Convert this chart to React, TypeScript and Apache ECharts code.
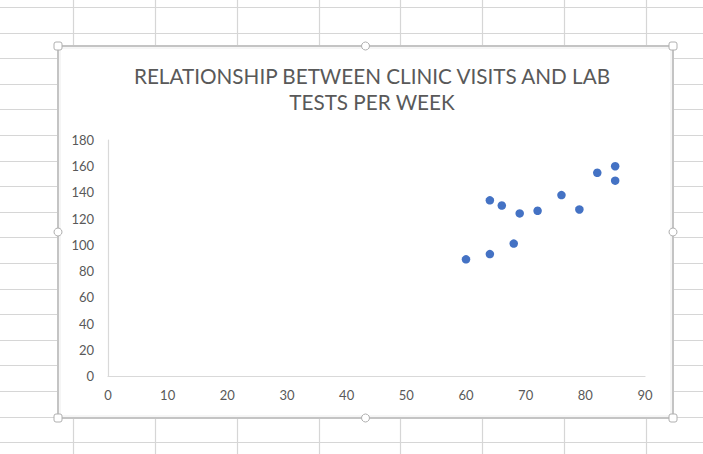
import React, { useEffect, useRef } from "react";
import * as echarts from "echarts";

const clinicVisits = [60, 64, 68, 64, 66, 69, 72, 76, 79, 82, 85, 85];
const labTests = [89, 93, 101, 134, 130, 124, 126, 138, 127, 155, 160, 149];
const titleText = "RELATIONSHIP BETWEEN CLINIC VISITS AND LAB\nTESTS PER WEEK";
const xRange = [0, 90, 10];
const yRange = [0, 180, 20];

const W = 703;
const H = 454;
const FONT = "Lato, 'Open Sans', sans-serif";

function buildBackground(): any[] {
  const els: any[] = [];
  const lineColor = "#d6d6d6";
  for (let k = 0; k < 18; k++) {
    const y = Math.round(7 + 25.6 * k) + 0.5;
    els.push({
      type: "line",
      z: -30,
      shape: { x1: 0, y1: y, x2: W, y2: y },
      style: { stroke: lineColor, lineWidth: 1.2 },
      silent: true,
    });
  }
  for (let k = 0; k < 8; k++) {
    const x = Math.round(73 + 81.85 * k) + 0.5;
    els.push({
      type: "line",
      z: -30,
      shape: { x1: x, y1: 0, x2: x, y2: H },
      style: { stroke: lineColor, lineWidth: 1.2 },
      silent: true,
    });
  }
  // chart area box
  const bx = 58, by = 46, bw = 615, bh = 372;
  els.push({
    type: "rect",
    z: -20,
    shape: { x: bx, y: by, width: bw, height: bh },
    style: { fill: "#ffffff", stroke: "#c4c4c4", lineWidth: 2 },
    silent: true,
  });
  els.push({
    type: "rect",
    z: -19,
    shape: { x: bx + 2, y: by + 2, width: bw - 4, height: bh - 4 },
    style: { fill: "none", stroke: "#ececec", lineWidth: 1 },
    silent: true,
  });
  const corners = [
    [bx, by],
    [bx + bw, by],
    [bx, by + bh],
    [bx + bw, by + bh],
  ];
  corners.forEach(([cx, cy]) => {
    els.push({
      type: "rect",
      z: -18,
      shape: { x: cx - 4, y: cy - 4, width: 8, height: 8, r: 2 },
      style: { fill: "#ffffff", stroke: "#b0b0b0", lineWidth: 1 },
      silent: true,
    });
  });
  const mids = [
    [bx + bw / 2, by],
    [bx + bw / 2, by + bh],
    [bx, by + bh / 2],
    [bx + bw, by + bh / 2],
  ];
  mids.forEach(([cx, cy]) => {
    els.push({
      type: "circle",
      z: -18,
      shape: { cx, cy, r: 4 },
      style: { fill: "#ffffff", stroke: "#b0b0b0", lineWidth: 1 },
      silent: true,
    });
  });
  return els;
}

export default function App() {
  const ref = useRef<HTMLDivElement>(null);

  useEffect(() => {
    if (!ref.current) return;
    const chart = echarts.init(ref.current, undefined, { renderer: "svg" });
    const data = clinicVisits.map((x, i) => [x, labTests[i]]);
    chart.setOption({
      animation: false,
      backgroundColor: "#ffffff",
      graphic: { elements: buildBackground() },
      title: {
        text: titleText,
        left: 367,
        top: 58,
        textAlign: "center",
        textStyle: {
          fontFamily: FONT,
          fontSize: 20.7,
          fontWeight: "normal",
          color: "#595959",
          lineHeight: 26,
        },
      },
      grid: { left: 108, top: 140, width: 537, height: 236, containLabel: false },
      xAxis: {
        type: "value",
        min: xRange[0],
        max: xRange[1],
        interval: xRange[2],
        axisLine: { show: true, lineStyle: { color: "#d9d9d9", width: 1.2 } },
        axisTick: { show: false },
        splitLine: { show: false },
        axisLabel: { color: "#595959", fontSize: 13, fontFamily: FONT, margin: 12 },
      },
      yAxis: {
        type: "value",
        min: yRange[0],
        max: yRange[1],
        interval: yRange[2],
        axisLine: { show: true, lineStyle: { color: "#d9d9d9", width: 1.2 } },
        axisTick: { show: false },
        splitLine: { show: false },
        axisLabel: { color: "#595959", fontSize: 13, fontFamily: FONT, margin: 14 },
      },
      series: [
        {
          type: "scatter",
          data,
          symbol: "circle",
          symbolSize: 8.5,
          itemStyle: { color: "#4472c4", opacity: 1 },
        },
      ],
    });
    return () => chart.dispose();
  }, []);

  return (
    <div
      ref={ref}
      style={{ position: "fixed", left: 0, top: 0, width: W, height: H }}
    />
  );
}
